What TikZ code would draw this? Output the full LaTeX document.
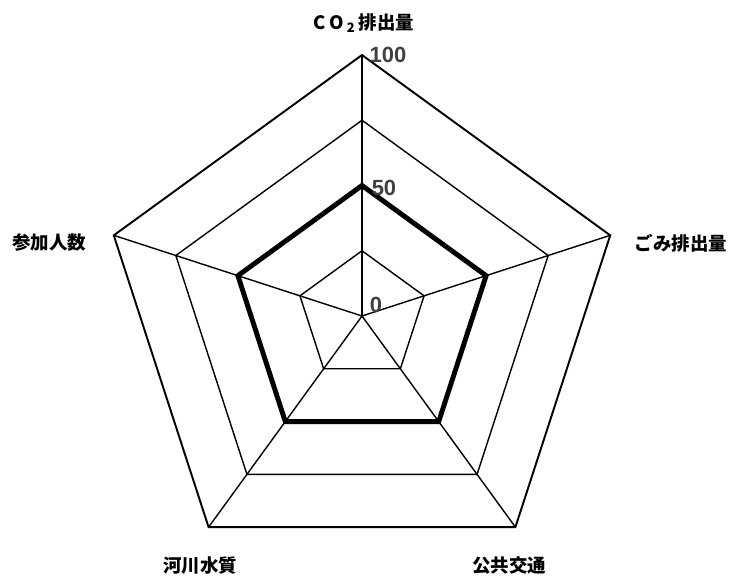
\documentclass[tikz,border=0pt]{standalone}
\usepackage{fontspec}
\setmainfont{Liberation Sans}
\newfontfamily\jpfont{Noto Sans CJK JP}
\usetikzlibrary{calc}

\begin{document}
\begin{tikzpicture}[x=0.02cm, y=0.02cm,
		ring/.style={line width=0.8pt},
		rim/.style={line width=1.1pt},
		spoke/.style={line width=0.8pt},
		score/.style={line width=2.8pt, line join=miter},
		axislabel/.style={font=\jpfont\bfseries\fontsize{10.5}{12}\selectfont},
		ticklabel/.style={font=\bfseries\fontsize{12.5}{14}\selectfont, text=black!75}]
			%%%%% START %%%%%
			
			\useasboundingbox (0, 0) rectangle (731, 576);
			\coordinate (c) at (362, 260);
			
			% axis end points
			\foreach \a [count=\i] in {90, 18, -54, -126, 162}
				\coordinate (v\i) at ($(c)+(\a:261)$);
			
			% rings at 25, 50, 75
			\foreach \r in {65.25, 130.5, 195.75}
				\draw[ring] ($(c)+(90:\r)$) -- ($(c)+(18:\r)$) -- ($(c)+(-54:\r)$) -- ($(c)+(-126:\r)$) -- ($(c)+(162:\r)$) -- cycle;
			\draw[rim] (v1) -- (v2) -- (v3) -- (v4) -- (v5) -- cycle;
			
			\foreach \i in {1,...,5}
				\draw[spoke] (c) -- (v\i);
			
			% scores, all 50
			\draw[score] ($(c)!0.5!(v1)$) -- ($(c)!0.5!(v2)$) -- ($(c)!0.5!(v3)$) -- ($(c)!0.5!(v4)$) -- ($(c)!0.5!(v5)$) -- cycle;
			
			\node[axislabel] (co2) at (364, 553) {C\,O\,\textsubscript{2}\,排出量};
			\node[axislabel] (gomi) at (681, 333) {ごみ排出量};
			\node[axislabel] (sanka) at (49, 333) {参加人数};
			\node[axislabel] (kasen) at (200, 10) {河川水質};
			\node[axislabel] (kokyo) at (509, 10) {公共交通};
			
			\node[ticklabel] (t100) at (388, 521) {100};
			\node[ticklabel] (t50) at (384, 388) {50};
			\node[ticklabel] (t0) at (376, 271) {0};
			
			%%%%% END %%%%%
\end{tikzpicture}
\end{document}
